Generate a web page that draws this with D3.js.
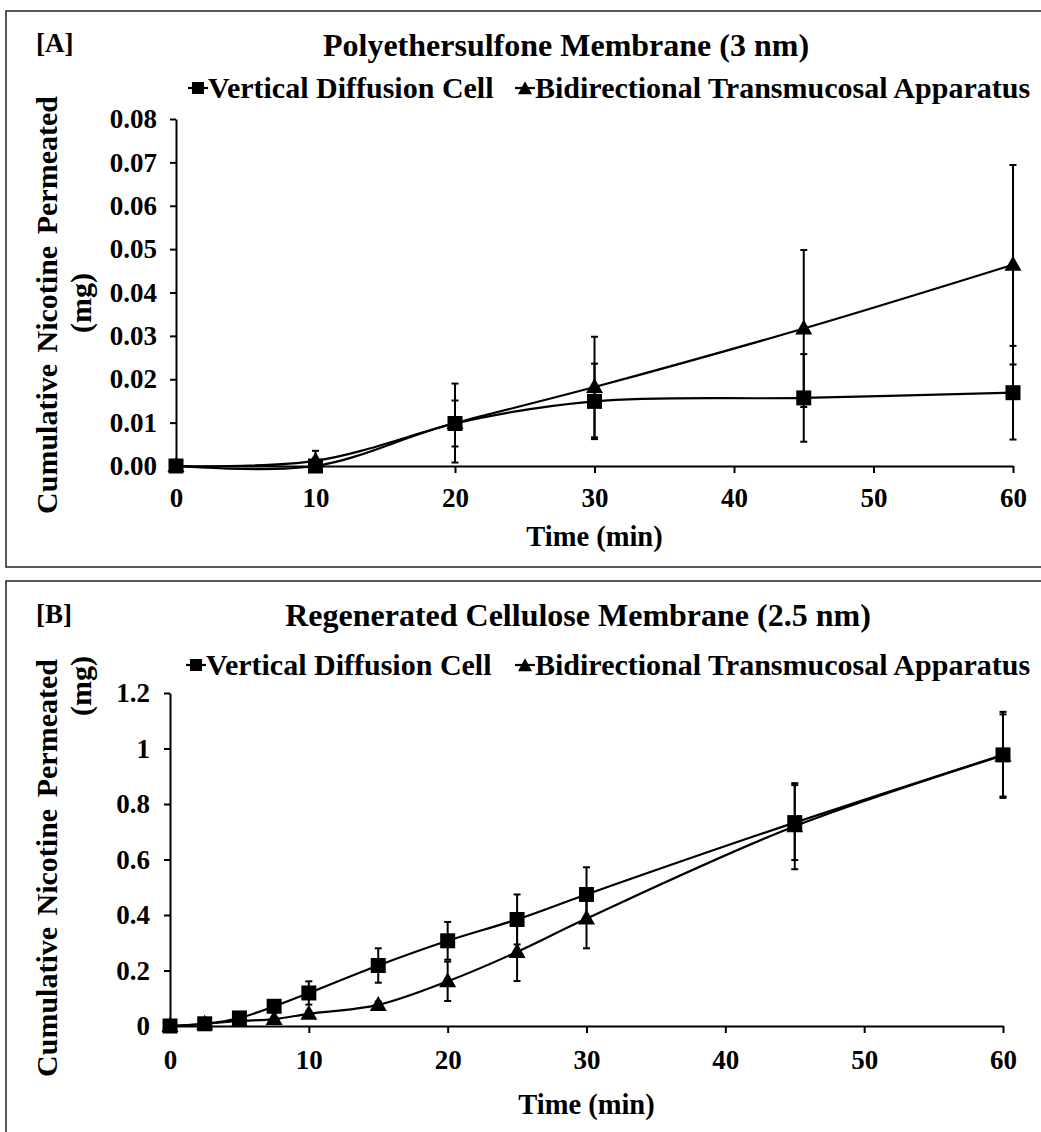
<!DOCTYPE html>
<html>
<head>
<meta charset="utf-8">
<script src="https://cdn.jsdelivr.net/npm/d3@7"></script>
<style>
  body { margin: 0; background: #fff; }
  svg { display: block; }
  text { font-family: "Liberation Serif", "Times New Roman", serif; font-weight: bold; fill: #000; }
</style>
</head>
<body>
<svg id="chart" width="1041" height="1132"></svg>
<script>
// ---- Panel A: polyethersulfone membrane (3 nm) ----
const timesA = [0, 10, 20, 30, 45, 60];
const vdcA = [0, 0, 0.0098, 0.0149, 0.0157, 0.0169];
const vdcSdA = [0, 0.0003, 0.0053, 0.0087, 0.0101, 0.0108];
const btaA = [0, 0.0012, 0.0099, 0.0182, 0.0317, 0.0464];
const btaSdA = [0, 0.0023, 0.0091, 0.0116, 0.0181, 0.0230];
const yTicksA = [0, 0.01, 0.02, 0.03, 0.04, 0.05, 0.06, 0.07, 0.08];
const yTickLabelsA = ["0.00", "0.01", "0.02", "0.03", "0.04", "0.05", "0.06", "0.07", "0.08"];

// ---- Panel B: regenerated cellulose membrane (2.5 nm) ----
const timesB = [0, 2.5, 5, 7.5, 10, 15, 20, 25, 30, 45, 60];
const vdcB = [0, 0.008, 0.029, 0.071, 0.119, 0.218, 0.307, 0.384, 0.474, 0.733, 0.977];
const vdcSdB = [0, 0.006, 0.008, 0.020, 0.042, 0.062, 0.068, 0.090, 0.098, 0.135, 0.155];
const btaB = [0, 0.008, 0.018, 0.025, 0.044, 0.076, 0.161, 0.267, 0.387, 0.720, 0.975];
const btaSdB = [0, 0.004, 0.005, 0.006, 0.008, 0.012, 0.071, 0.105, 0.107, 0.155, 0.148];
const yTicksB = [0, 0.2, 0.4, 0.6, 0.8, 1.0, 1.2];
const yTickLabelsB = ["0", "0.2", "0.4", "0.6", "0.8", "1", "1.2"];

// ---- shared ----
const xTicks = [0, 10, 20, 30, 40, 50, 60];
const seriesNames = ["Vertical Diffusion Cell", "Bidirectional Transmucosal Apparatus"];
const yTitleLines = ["Cumulative Nicotine Permeated", "(mg)"];
const xTitle = "Time (min)";

const panels = [
  {
    tag: "[A]", title: "Polyethersulfone Membrane (3 nm)",
    times: timesA, vdc: vdcA, vdcSd: vdcSdA, bta: btaA, btaSd: btaSdA,
    yDomain: [0, 0.08], yTicks: yTicksA, yTickLabels: yTickLabelsA,
    box: { x: 6, y: 11, w: 1045, h: 556 },
    plot: { left: 176, right: 1013, top: 119, bottom: 466 },
    titleX: 566, titleY: 56, tagY: 52,
    legendY: 88, legendX: [188, 515],
    yTitle1Y: 305, yTitle2Y: 303, yPad: 13, xPad: 15, xTitleY: 546
  },
  {
    tag: "[B]", title: "Regenerated Cellulose Membrane (2.5 nm)",
    times: timesB, vdc: vdcB, vdcSd: vdcSdB, bta: btaB, btaSd: btaSdB,
    yDomain: [0, 1.2], yTicks: yTicksB, yTickLabels: yTickLabelsB,
    box: { x: 6, y: 581, w: 1045, h: 560 },
    plot: { left: 170, right: 1003, top: 693, bottom: 1026 },
    titleX: 578, titleY: 626, tagY: 623,
    legendY: 665, legendX: [186, 515],
    yTitle1Y: 868, yTitle2Y: 686, yPad: 14, xPad: 17, xTitleY: 1114
  }
];

const svg = d3.select("#chart");

function squarePath(cx, cy, s) {
  return `M${cx - s / 2},${cy - s / 2}h${s}v${s}h${-s}Z`;
}
function trianglePath(cx, cy, w, h) {
  return `M${cx},${cy - h * 0.6}L${cx + w / 2},${cy + h * 0.4}L${cx - w / 2},${cy + h * 0.4}Z`;
}

function drawPanel(p) {
  const g = svg.append("g");

  g.append("rect")
    .attr("x", p.box.x).attr("y", p.box.y)
    .attr("width", p.box.w).attr("height", p.box.h)
    .attr("fill", "none").attr("stroke", "#222").attr("stroke-width", 1.5);

  const x = d3.scaleLinear().domain([0, 60]).range([p.plot.left, p.plot.right]);
  const y = d3.scaleLinear().domain(p.yDomain).range([p.plot.bottom, p.plot.top]);

  // axes
  const xAxis = d3.axisBottom(x).tickValues(xTicks).tickSize(7).tickSizeOuter(0).tickPadding(p.xPad);
  const yAxis = d3.axisLeft(y).tickValues(p.yTicks).tickSize(6).tickSizeOuter(0).tickPadding(p.yPad)
    .tickFormat((d, i) => p.yTickLabels[i]);

  const gx = g.append("g").attr("transform", `translate(0,${p.plot.bottom})`).call(xAxis);
  const gy = g.append("g").attr("transform", `translate(${p.plot.left},0)`).call(yAxis);
  [gx, gy].forEach(a => {
    a.selectAll("path,line").attr("stroke", "#000").attr("stroke-width", 2);
    a.selectAll("text").attr("font-size", 27)
      .attr("font-family", '"Liberation Serif", "Times New Roman", serif')
      .attr("font-weight", "bold").attr("fill", "#000");
  });

  // panel tag and title
  g.append("text").attr("x", 36).attr("y", p.tagY).attr("font-size", 27).text(p.tag);
  g.append("text").attr("x", p.titleX).attr("y", p.titleY)
    .attr("text-anchor", "middle").attr("font-size", 32).text(p.title);

  // axis titles
  g.append("text")
    .attr("x", (p.plot.left + p.plot.right) / 2).attr("y", p.xTitleY)
    .attr("text-anchor", "middle").attr("font-size", 28.5).text(xTitle);
  g.append("text")
    .attr("transform", `translate(57,${p.yTitle1Y}) rotate(-90)`)
    .attr("text-anchor", "middle").attr("font-size", 30).attr("word-spacing", 4).text(yTitleLines[0]);
  g.append("text")
    .attr("transform", `translate(91,${p.yTitle2Y}) rotate(-90)`)
    .attr("text-anchor", "middle").attr("font-size", 30).text(yTitleLines[1]);

  // legend
  p.legendX.forEach((lx, i) => {
    g.append("line").attr("x1", lx).attr("x2", lx + 20)
      .attr("y1", p.legendY).attr("y2", p.legendY)
      .attr("stroke", "#000").attr("stroke-width", 2.2);
    g.append("path")
      .attr("d", i === 0 ? squarePath(lx + 10, p.legendY, 12) : trianglePath(lx + 10, p.legendY + 1, 14, 13))
      .attr("fill", "#000");
    g.append("text").attr("x", lx + 20).attr("y", p.legendY + 10)
      .attr("font-size", 30).text(seriesNames[i]);
  });

  const series = [
    { values: p.vdc, sd: p.vdcSd, shape: "square" },
    { values: p.bta, sd: p.btaSd, shape: "triangle" }
  ];

  const line = d3.line()
    .x((d, i) => x(p.times[i]))
    .y(d => y(d))
    .curve(d3.curveCatmullRom.alpha(0.5));

  series.forEach(s => {
    // error bars (mean ± SD)
    const eb = g.append("g").attr("stroke", "#000").attr("stroke-width", 2);
    s.values.forEach((v, i) => {
      if (!s.sd[i]) return;
      const cx = x(p.times[i]);
      const y1 = y(Math.max(v - s.sd[i], p.yDomain[0]));
      const y2 = y(v + s.sd[i]);
      eb.append("line").attr("x1", cx).attr("x2", cx).attr("y1", y1).attr("y2", y2);
      eb.append("line").attr("x1", cx - 3.5).attr("x2", cx + 3.5).attr("y1", y2).attr("y2", y2);
      if (v - s.sd[i] > p.yDomain[0])
        eb.append("line").attr("x1", cx - 3.5).attr("x2", cx + 3.5).attr("y1", y1).attr("y2", y1);
    });
  });

  series.forEach(s => {
    g.append("path").datum(s.values)
      .attr("d", line).attr("fill", "none")
      .attr("stroke", "#000").attr("stroke-width", 2.2);
  });

  series.forEach(s => {
    g.append("g").selectAll("path").data(s.values).join("path")
      .attr("d", (v, i) => s.shape === "square"
        ? squarePath(x(p.times[i]), y(v), 15)
        : trianglePath(x(p.times[i]), y(v), 17, 15))
      .attr("fill", "#000");
  });
}

panels.forEach(drawPanel);
</script>
</body>
</html>
